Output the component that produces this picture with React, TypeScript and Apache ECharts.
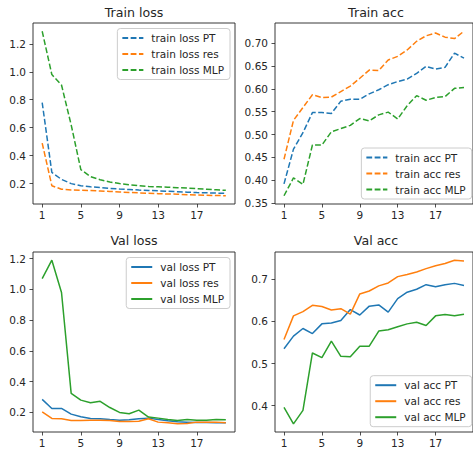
import React, { useEffect, useRef } from "react";
import * as echarts from "echarts";

const epochs = Array.from({ length: 20 }, (_, i) => i + 1);

const trainLossPT = [0.78, 0.28, 0.23, 0.2, 0.185, 0.177, 0.172, 0.166, 0.161, 0.158, 0.154, 0.151, 0.148, 0.145, 0.142, 0.139, 0.136, 0.134, 0.132, 0.13];
const trainLossRes = [0.49, 0.185, 0.16, 0.155, 0.152, 0.15, 0.147, 0.144, 0.14, 0.137, 0.134, 0.131, 0.128, 0.126, 0.124, 0.121, 0.119, 0.117, 0.115, 0.113];
const trainLossMLP = [1.29, 0.98, 0.905, 0.62, 0.3, 0.25, 0.228, 0.212, 0.2, 0.192, 0.186, 0.18, 0.177, 0.174, 0.171, 0.168, 0.164, 0.16, 0.156, 0.152];

const trainAccPT = [0.392, 0.468, 0.504, 0.548, 0.548, 0.546, 0.573, 0.577, 0.577, 0.589, 0.598, 0.609, 0.616, 0.621, 0.634, 0.649, 0.643, 0.647, 0.678, 0.667];
const trainAccRes = [0.446, 0.531, 0.559, 0.587, 0.581, 0.582, 0.594, 0.606, 0.623, 0.641, 0.64, 0.663, 0.671, 0.685, 0.704, 0.716, 0.722, 0.713, 0.71, 0.726];
const trainAccMLP = [0.366, 0.405, 0.391, 0.477, 0.477, 0.506, 0.513, 0.52, 0.535, 0.53, 0.543, 0.549, 0.534, 0.563, 0.585, 0.575, 0.581, 0.583, 0.601, 0.603];

const valLossPT = [0.285, 0.226, 0.226, 0.189, 0.172, 0.161, 0.159, 0.154, 0.15, 0.152, 0.159, 0.163, 0.154, 0.146, 0.139, 0.137, 0.135, 0.135, 0.133, 0.133];
const valLossRes = [0.204, 0.161, 0.159, 0.148, 0.148, 0.15, 0.15, 0.148, 0.141, 0.141, 0.143, 0.159, 0.137, 0.133, 0.126, 0.128, 0.137, 0.137, 0.137, 0.133];
const valLossMLP = [1.07, 1.19, 0.98, 0.324, 0.28, 0.263, 0.272, 0.232, 0.2, 0.191, 0.215, 0.17, 0.163, 0.154, 0.148, 0.154, 0.15, 0.15, 0.154, 0.152];

const valAccPT = [0.535, 0.565, 0.583, 0.571, 0.594, 0.596, 0.602, 0.628, 0.615, 0.636, 0.639, 0.622, 0.654, 0.669, 0.676, 0.687, 0.682, 0.687, 0.69, 0.685];
const valAccRes = [0.557, 0.613, 0.623, 0.638, 0.635, 0.627, 0.63, 0.617, 0.665, 0.672, 0.684, 0.691, 0.706, 0.711, 0.717, 0.725, 0.732, 0.737, 0.745, 0.743];
const valAccMLP = [0.396, 0.357, 0.389, 0.525, 0.514, 0.553, 0.517, 0.516, 0.541, 0.541, 0.577, 0.58, 0.587, 0.594, 0.598, 0.59, 0.613, 0.616, 0.613, 0.617];

const xTicks = [1, 5, 9, 13, 17];
const lossTicks = [0.2, 0.4, 0.6, 0.8, 1.0, 1.2];
const trainAccTicks = [0.35, 0.4, 0.45, 0.5, 0.55, 0.6, 0.65, 0.7];
const valAccTicks = [0.4, 0.5, 0.6, 0.7];

const titles = ["Train loss", "Train acc", "Val loss", "Val acc"];
const modelSuffix = ["PT", "res", "MLP"];
const colors = ["#1f77b4", "#ff7f0e", "#2ca02c"];

const FONT = "DejaVu Sans";
const TXT = "#262626";

function padRange(arrs: number[][]): [number, number] {
  const all = arrs.flat();
  const lo = Math.min(...all);
  const hi = Math.max(...all);
  const m = (hi - lo) * 0.05;
  return [lo - m, hi + m];
}

const grids = [
  { left: 33, top: 23, width: 202, height: 181 },
  { left: 275, top: 23, width: 202, height: 181 },
  { left: 33, top: 252, width: 202, height: 180 },
  { left: 275, top: 252, width: 202, height: 180 },
];

export default function App() {
  const ref = useRef<HTMLDivElement>(null);
  useEffect(() => {
    if (!ref.current) return;
    const chart = echarts.init(ref.current, null, { renderer: "svg" });

    const panels = [
      { data: [trainLossPT, trainLossRes, trainLossMLP], prefix: "train loss", dashed: true, ticks: lossTicks, dec: 1 },
      { data: [trainAccPT, trainAccRes, trainAccMLP], prefix: "train acc", dashed: true, ticks: trainAccTicks, dec: 2 },
      { data: [valLossPT, valLossRes, valLossMLP], prefix: "val loss", dashed: false, ticks: lossTicks, dec: 1 },
      { data: [valAccPT, valAccRes, valAccMLP], prefix: "val acc", dashed: false, ticks: valAccTicks, dec: 1 },
    ];

    const xAxis = grids.map((_, i) => ({
      type: "value",
      gridIndex: i,
      min: 0.05,
      max: 20.95,
      splitLine: { show: false },
      axisLine: { show: false },
      axisTick: { show: true, length: 3.5, lineStyle: { color: "#222", width: 0.8 }, customValues: xTicks },
      axisLabel: { customValues: xTicks, margin: 5, fontFamily: FONT, fontSize: 10.5, color: TXT },
    }));

    const yAxis = panels.map((p, i) => {
      const [mn, mx] = padRange(p.data);
      return {
        type: "value",
        gridIndex: i,
        min: mn,
        max: mx,
        splitLine: { show: false },
        axisLine: { show: false },
        axisTick: { show: true, length: 3.5, lineStyle: { color: "#222", width: 0.8 }, customValues: p.ticks },
        axisLabel: {
          customValues: p.ticks,
          margin: 7,
          fontFamily: FONT,
          fontSize: 10.5,
          color: TXT,
          formatter: (v: number) => v.toFixed(p.dec),
        },
      };
    });

    const series: any[] = [];
    panels.forEach((p, i) => {
      p.data.forEach((arr, k) => {
        series.push({
          type: "line",
          name: `${p.prefix} ${modelSuffix[k]}`,
          xAxisIndex: i,
          yAxisIndex: i,
          symbol: "none",
          data: epochs.map((e, j) => [e, arr[j]]),
          lineStyle: { color: colors[k], width: 1.5, type: p.dashed ? [5.8, 2.5] : "solid" },
          itemStyle: { color: colors[k] },
        });
      });
    });

    const legendPos = [
      { right: 243, top: 28.5 },
      { right: 1.3, bottom: 251 },
      { right: 243, top: 257.5 },
      { right: 1.3, bottom: 23.3 },
    ];

    const legend = panels.map((p, i) => ({
      ...legendPos[i],
      orient: "vertical",
      data: modelSuffix.map((s) => `${p.prefix} ${s}`),
      itemWidth: 21,
      itemHeight: 11,
      itemGap: 5,
      padding: [4, 6, 4, 4],
      backgroundColor: "rgba(255,255,255,0.8)",
      borderColor: "#cccccc",
      borderWidth: 1,
      borderRadius: 3,
      selectedMode: false,
      itemStyle: { opacity: 0, borderWidth: 0 },
      textStyle: { fontFamily: FONT, fontSize: 10.5, color: TXT, lineHeight: 11, padding: [0, 0, 0, 3] },
    }));

    const titleCenters = grids.map((g) => g.left + g.width / 2);
    const titleY = [12, 12, 240.5, 240.5];

    chart.setOption({
      animation: false,
      backgroundColor: "#ffffff",
      grid: grids.map((g) => ({ ...g, show: true, borderColor: "#222", borderWidth: 0.9, backgroundColor: "transparent" })),
      xAxis,
      yAxis,
      series,
      legend,
      graphic: titles.map((t, i) => ({
        type: "text",
        x: titleCenters[i],
        y: titleY[i],
        style: { text: t, fontFamily: FONT, fontSize: 12.6, fill: TXT, textAlign: "center", textVerticalAlign: "middle" },
      })),
    });

    return () => chart.dispose();
  }, []);

  return <div ref={ref} style={{ position: "absolute", left: 0, top: 0, width: 473, height: 450 }} />;
}
